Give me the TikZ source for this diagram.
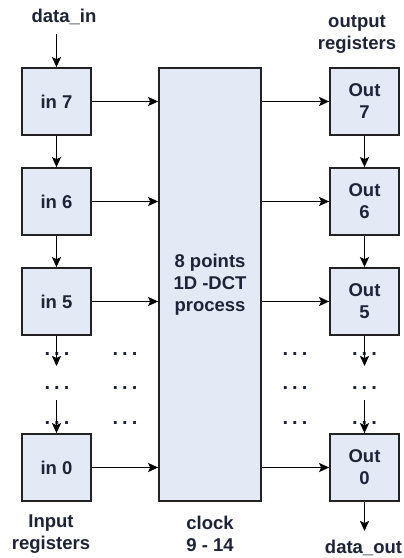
\documentclass[tikz,border=0pt]{standalone}
\usepackage{fontspec}
\setmainfont{Liberation Sans}
\usetikzlibrary{arrows.meta}
\definecolor{boxfill}{HTML}{E3EAF5}
\definecolor{txt}{HTML}{1E2438}
\definecolor{edge}{HTML}{222222}
\begin{document}
\begin{tikzpicture}[x=1pt,y=-1pt,
  reg/.style={draw=edge, line width=1.7pt, fill=boxfill, minimum width=69pt, minimum height=67pt, inner sep=0pt, align=center, font=\fontsize{18.5}{22}\selectfont\bfseries, text=txt},
  core/.style={reg, minimum width=102pt, minimum height=433pt},
  lbl/.style={font=\fontsize{18.5}{22}\selectfont\bfseries, text=txt, align=center, inner sep=0pt},
  dotsl/.style={font=\fontsize{20}{22}\selectfont\bfseries, text=txt, inner sep=0pt, anchor=base},
  arr/.style={draw=black, line width=1.7pt, -{Stealth[length=10pt,width=9pt,inset=2pt]}}
]
\useasboundingbox (0,0) rectangle (404,558);
\fill[white] (0,0) rectangle (404,558);

% input registers
\node[reg] (in7) at (56.5,101.5) {in 7};
\node[reg] (in6) at (56.5,201.5) {in 6};
\node[reg] (in5) at (56.5,301.5) {in 5};
\node[reg] (in0) at (56.5,467.5) {in 0};

% core
\node[core] (dct) at (210,284.5) {8 points\\1D -DCT\\process};

% output registers
\node[reg] (out7) at (364.5,101.5) {Out\\7};
\node[reg] (out6) at (364.5,201.5) {Out\\6};
\node[reg] (out5) at (364.5,301.5) {Out\\5};
\node[reg] (out0) at (364.5,467.5) {Out\\0};

% labels
\node[lbl] (din) at (64,17) {data\_in};
\node[lbl] (oreg) at (357,34.5) {output\\registers};
\node[lbl] (ireg) at (51,534) {Input\\registers};
\node[lbl] (clk) at (210,534) {clock\\9 - 14};
\node[lbl] (dout) at (363.5,548) {data\_out};

% dots
\foreach \yy/\nm in {355/a,389/b,424/c}{
  \node[dotsl] (dl\nm) at (57,\yy) {.\hspace{4pt}.\hspace{4pt}.};
  \node[dotsl] (dm\nm) at (125,\yy) {.\hspace{4pt}.\hspace{4pt}.};
  \node[dotsl] (dr\nm) at (295,\yy) {.\hspace{4pt}.\hspace{4pt}.};
  \node[dotsl] (do\nm) at (364.5,\yy) {.\hspace{4pt}.\hspace{4pt}.};
}

% coordinates for free ends
\coordinate (ltip) at (56.5,366);
\coordinate (lstart) at (56.5,400);
\coordinate (rtip) at (364.5,366);
\coordinate (rstart) at (364.5,400);
\coordinate (dintop) at (56.5,34);
\coordinate (douttip) at (364.5,531);

% vertical arrows
\draw[arr] (dintop) -- (in7.north);
\draw[arr] (in7) -- (in6);
\draw[arr] (in6) -- (in5);
\draw[arr] (in5.south) -- (ltip);
\draw[arr] (lstart) -- (in0.north);
\draw[arr] (out7) -- (out6);
\draw[arr] (out6) -- (out5);
\draw[arr] (out5.south) -- (rtip);
\draw[arr] (rstart) -- (out0.north);
\draw[arr] (out0.south) -- (douttip);

% horizontal arrows
\foreach \n in {7,6,5,0}{
  \draw[arr] (in\n.east) -- (in\n.east -| dct.west);
  \draw[arr] (out\n.west -| dct.east) -- (out\n.west);
}
\end{tikzpicture}
\end{document}
